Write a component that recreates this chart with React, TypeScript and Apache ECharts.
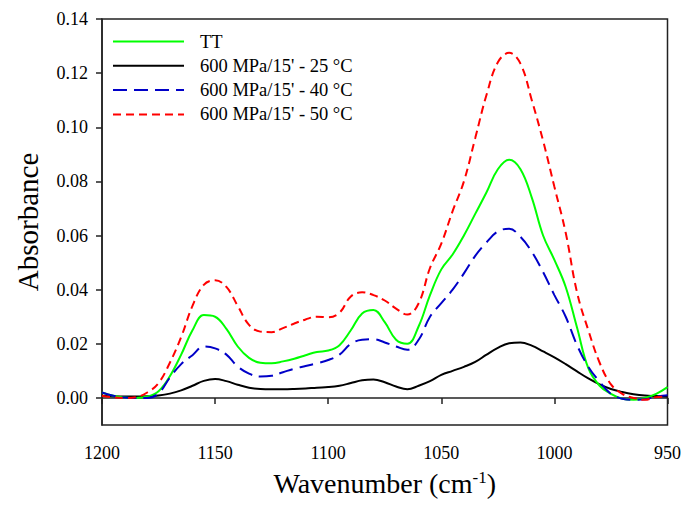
import React, { useEffect, useRef } from "react";
import * as echarts from "echarts";

const wavenumbers = [1200,1195,1190,1185,1180,1175,1170,1165,1160,1155,1150,1145,1140,1135,1130,1125,1120,1115,1110,1105,1100,1095,1090,1085,1080,1075,1070,1065,1060,1055,1050,1045,1040,1035,1030,1025,1020,1015,1010,1005,1000,995,990,985,980,975,970,965,960,955,950];

const tt = [0.0020,0.0008,0.0002,0.0000,0.0005,0.0025,0.0080,0.0160,0.0250,0.0306,0.0300,0.0255,0.0190,0.0148,0.0130,0.0128,0.0135,0.0145,0.0158,0.0170,0.0175,0.0195,0.0250,0.0312,0.0325,0.0280,0.0215,0.0200,0.0265,0.0380,0.0475,0.0530,0.0600,0.0680,0.0760,0.0845,0.0880,0.0845,0.0740,0.0600,0.0510,0.0410,0.0260,0.0110,0.0045,0.0015,-0.0003,-0.0007,0.0000,0.0015,0.0040];

const p25 = [0.0008,0.0006,0.0005,0.0005,0.0006,0.0009,0.0016,0.0028,0.0045,0.0063,0.0070,0.0062,0.0049,0.0038,0.0033,0.0032,0.0032,0.0033,0.0035,0.0038,0.0040,0.0045,0.0055,0.0065,0.0068,0.0058,0.0042,0.0032,0.0045,0.0062,0.0085,0.0100,0.0115,0.0133,0.0160,0.0185,0.0202,0.0205,0.0193,0.0172,0.0150,0.0125,0.0098,0.0072,0.0050,0.0033,0.0022,0.0014,0.0009,0.0007,0.0005];

const p40 = [0.0020,0.0008,0.0002,0.0000,0.0000,0.0017,0.0075,0.0125,0.0158,0.0190,0.0183,0.0160,0.0116,0.0090,0.0079,0.0082,0.0095,0.0108,0.0118,0.0128,0.0140,0.0160,0.0200,0.0215,0.0217,0.0205,0.0190,0.0178,0.0215,0.0300,0.0350,0.0400,0.0460,0.0525,0.0575,0.0615,0.0625,0.0595,0.0540,0.0465,0.0380,0.0300,0.0195,0.0115,0.0060,0.0015,-0.0003,-0.0007,-0.0005,0.0005,0.0010];

const p50 = [0.0008,0.0002,0.0000,0.0003,0.0020,0.0055,0.0130,0.0225,0.0340,0.0418,0.0435,0.0410,0.0340,0.0270,0.0245,0.0243,0.0258,0.0275,0.0290,0.0300,0.0298,0.0315,0.0375,0.0390,0.0380,0.0360,0.0330,0.0308,0.0350,0.0480,0.0570,0.0690,0.0800,0.0960,0.1120,0.1240,0.1275,0.1235,0.1100,0.0950,0.0780,0.0610,0.0390,0.0250,0.0130,0.0050,0.0015,0.0000,-0.0007,0.0003,0.0005];

const seriesNames = ["TT", "600 MPa/15' - 25 °C", "600 MPa/15' - 40 °C", "600 MPa/15' - 50 °C"];
const yTicks = [0, 0.02, 0.04, 0.06, 0.08, 0.1, 0.12, 0.14];

const FONT = "Liberation Serif";

export default function App() {
  const ref = useRef<HTMLDivElement>(null);
  useEffect(() => {
    if (!ref.current) return;
    const chart = echarts.init(ref.current, null, { renderer: "svg" });
    const mk = (vals: number[]) => wavenumbers.map((w, i) => [w, vals[i]]);
    const styles = [
      { color: "#00ff00", type: "solid" as any },
      { color: "#000000", type: "solid" as any },
      { color: "#0000c8", type: [14, 7] as any },
      { color: "#ff0000", type: [8, 5] as any },
    ];
    const datas = [tt, p25, p40, p50];
    chart.setOption({
      animation: false,
      backgroundColor: "#ffffff",
      textStyle: { fontFamily: FONT },
      grid: { left: 102, right: 15, top: 19, bottom: 81, show: true, borderColor: "#222", borderWidth: 1.5, backgroundColor: "transparent" },
      legend: {
        orient: "vertical",
        left: 107,
        top: 27,
        itemWidth: 71,
        itemHeight: 14,
        itemGap: 5.3,
        itemStyle: { color: "transparent", borderWidth: 0, opacity: 0 },
        textStyle: { fontFamily: FONT, fontSize: 18.5, color: "#000", lineHeight: 18, padding: [0, 0, 0, 11] },
        data: seriesNames,
      },
      xAxis: {
        type: "value",
        inverse: true,
        min: 950,
        max: 1200,
        interval: 50,
        name: "{a|Wavenumber (cm}{b|-1}{a|)}",
        nameLocation: "middle",
        nameGap: 44,
        nameTextStyle: {
          rich: {
            a: { fontFamily: FONT, fontSize: 28, color: "#000" },
            b: { fontFamily: FONT, fontSize: 17, color: "#000", verticalAlign: "top", padding: [0, 0, 12, 0] },
          },
        },
        axisLine: { lineStyle: { color: "#222", width: 1.5 } },
        axisTick: { inside: false, length: 6, lineStyle: { color: "#222", width: 1.5 } },
        axisLabel: { fontFamily: FONT, fontSize: 18, color: "#000", margin: 19, formatter: (v: number) => String(v) },
        splitLine: { show: false },
      },
      yAxis: {
        type: "value",
        min: -0.01,
        max: 0.14,
        name: "Absorbance",
        nameLocation: "middle",
        nameGap: 60,
        nameTextStyle: { fontFamily: FONT, fontSize: 29, color: "#000" },
        axisLine: { lineStyle: { color: "#222", width: 1.5 } },
        axisTick: { inside: false, length: 6, customValues: yTicks, lineStyle: { color: "#222", width: 1.5 } },
        axisLabel: {
          fontFamily: FONT,
          fontSize: 18,
          color: "#000",
          margin: 14,
          customValues: yTicks,
          formatter: (v: number) => v.toFixed(2),
        },
        splitLine: { show: false },
      },
      series: datas.map((d, i) => ({
        name: seriesNames[i],
        type: "line",
        data: mk(d),
        smooth: 0.4,
        symbol: "none",
        lineStyle: { color: styles[i].color, width: 2, type: styles[i].type },
        itemStyle: { color: styles[i].color },
        z: [3, 2, 4, 5][i],
      })),
    });
    return () => chart.dispose();
  }, []);
  return <div ref={ref} style={{ width: 684, height: 506, position: "absolute", left: 0, top: 0 }} />;
}
